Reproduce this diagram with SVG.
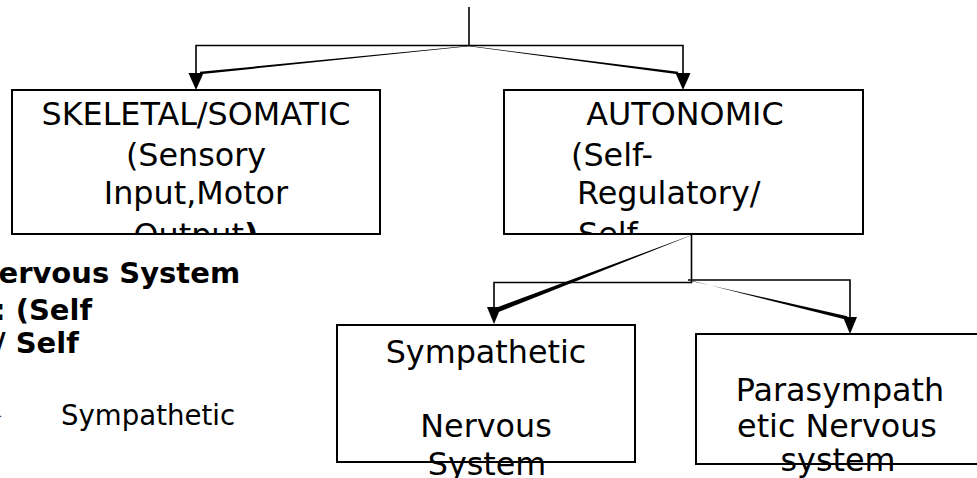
<svg xmlns="http://www.w3.org/2000/svg" width="977" height="478" viewBox="0 0 977 478">
  <style>
    .bg { fill: #ffffff; stroke: none; }
    .box { fill: none; stroke: #000000; stroke-width: 2; }
    .conn { fill: none; stroke: #000000; stroke-width: 1.6; }
    .taper { fill: #000000; stroke: none; }
    .arrow { fill: #000000; stroke: none; }
    .t { font-family: "DejaVu Sans", "Liberation Sans", sans-serif; font-size: 31.8px; fill: #000000; }
    .b { font-family: "DejaVu Sans", "Liberation Sans", sans-serif; font-size: 29px; font-weight: bold; fill: #000000; }
    .s { font-family: "DejaVu Sans", "Liberation Sans", sans-serif; font-size: 27.6px; fill: #000000; }
    .mid { text-anchor: middle; }
  </style>
  <defs>
    <clipPath id="clip1"><rect x="12" y="90" width="368" height="144"/></clipPath>
    <clipPath id="clip2"><rect x="504" y="90" width="359" height="144"/></clipPath>
  </defs>
  <rect x="0" y="0" width="977" height="478" fill="#ffffff"/>

  <g id="connectors">
    <path class="conn" d="M469,7 V45.5"/>
    <path class="conn" d="M469,45.5 H196 V80"/>
    <path class="conn" d="M469,45.5 H683 V80"/>
    <path class="conn" d="M691.5,234 V282.5 H494 V312"/>
    <path class="conn" d="M688,280 H850 V322"/>
    <polygon class="taper" points="469,45.8 199.9,71.8 200.1,74.2 469,46.2"/>
    <polygon class="taper" points="469,45.8 678.15,71.8 677.85,74.2 469,46.2"/>
    <polygon class="taper" points="692.2,235 497.9,312.3 496.1,307.7 691.8,235"/>
    <polygon class="taper" points="692,280.8 846.6,319.7 847.4,316.3 692,281.2"/>
    <polygon class="arrow" points="188.5,73 203.5,73 196,90"/>
    <polygon class="arrow" points="675.5,73 690.5,73 683,90"/>
    <polygon class="arrow" points="487,307 501,307 494,324"/>
    <polygon class="arrow" points="843,317 857,317 850,334"/>
  </g>

  <g id="node-skeletal">
    <rect class="bg" x="12" y="90" width="368" height="144"/>
    <g clip-path="url(#clip1)">
      <text class="t mid" x="196" y="125">SKELETAL/SOMATIC</text>
      <text class="t mid" x="196" y="166">(Sensory</text>
      <text class="t mid" x="196" y="204">Input,Motor</text>
      <text class="t mid" x="196" y="246">Output<tspan font-weight="bold">)</tspan></text>
    </g>
    <rect class="box" x="12" y="90" width="368" height="144"/>
  </g>

  <g id="node-autonomic">
    <rect class="bg" x="504" y="90" width="359" height="144"/>
    <g clip-path="url(#clip2)">
      <text class="t mid" x="685" y="125">AUTONOMIC</text>
      <text class="t" x="571" y="166">(Self-</text>
      <text class="t" x="577" y="204">Regulatory/</text>
      <text class="t" x="578" y="245">Self-</text>
    </g>
    <rect class="box" x="504" y="90" width="359" height="144"/>
  </g>

  <g id="node-sympathetic">
    <rect class="bg" x="337" y="325" width="298" height="137"/>
    <text class="t mid" x="486" y="363">Sympathetic</text>
    <text class="t mid" x="486" y="437">Nervous</text>
    <text class="t mid" x="487" y="475">System</text>
    <rect class="box" x="337" y="325" width="298" height="137"/>
  </g>

  <g id="node-parasympathetic">
    <rect class="bg" x="696" y="334" width="290" height="130"/>
    <text class="t mid" x="840" y="401">Parasympath</text>
    <text class="t mid" x="837" y="437">etic Nervous</text>
    <text class="t mid" x="838" y="471">system</text>
    <rect class="box" x="696" y="334" width="290" height="130"/>
  </g>

  <g id="side-text">
    <text class="b" x="-1.5" y="283">ervous System</text>
    <text class="b" x="-6" y="320">: (Self</text>
    <text class="b" x="-5" y="353">/ Self</text>
    <text class="s" x="3" y="425" text-anchor="end">➢</text>
    <text class="s" x="61" y="425">Sympathetic</text>
  </g>
</svg>
